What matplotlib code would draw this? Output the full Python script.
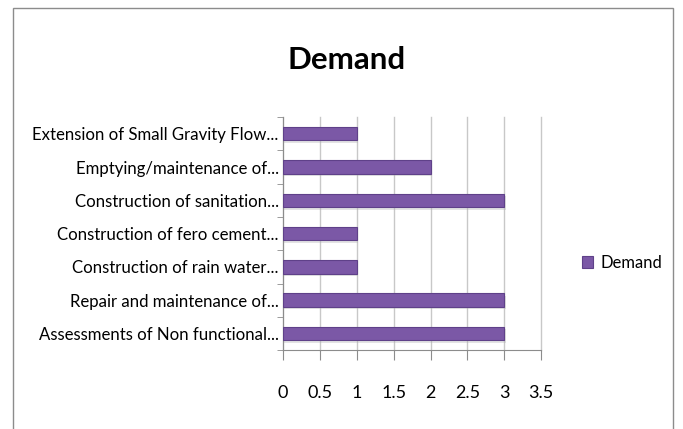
import matplotlib.pyplot as plt
from matplotlib.patches import Rectangle

categories = [
    "Assessments of Non functional...",
    "Repair and maintenance of...",
    "Construction of rain water...",
    "Construction of fero cement...",
    "Construction of sanitation...",
    "Emptying/maintenance of...",
    "Extension of Small Gravity Flow...",
]
demand = [3, 3, 1, 1, 3, 2, 1]
xticks = [0, 0.5, 1, 1.5, 2, 2.5, 3, 3.5]
xtick_labels = ["0", "0.5", "1", "1.5", "2", "2.5", "3", "3.5"]

plt.rcParams['font.family'] = ['Lato', 'DejaVu Sans']

fig = plt.figure(figsize=(6.83, 4.29), dpi=100)
fig.patches.append(Rectangle((0.019, -0.05), 0.966, 1.031, transform=fig.transFigure,
                             fill=False, edgecolor="#8c8c8c", linewidth=1.0))
ax = fig.add_axes([0.4144, 0.184, 0.378, 0.543])

pos = list(range(len(categories)))
# soft shadow under each bar
ax.barh([p - 0.08 for p in pos], [v + 0.02 for v in demand], height=0.4,
        color="#b0b0b0", alpha=0.35, linewidth=0, zorder=2)
ax.barh(pos, demand, height=0.4, color="#7b58a6", edgecolor="#5f4189",
        linewidth=0.8, zorder=3, label="Demand")

ax.set_xlim(0, 3.5)
ax.set_ylim(-0.5, len(categories) - 0.5)
ax.set_xticks(xticks)
ax.set_xticklabels(xtick_labels, fontsize=13)
ax.set_yticks(pos)
ax.set_yticklabels(categories, fontsize=12.1)
ax.set_yticks([p - 0.5 for p in pos] + [len(categories) - 0.5], minor=True)

ax.tick_params(axis="x", length=7, pad=18, color="#8c8c8c")
ax.tick_params(axis="y", which="major", length=0, pad=3)
ax.tick_params(axis="y", which="minor", length=4, color="#8c8c8c")

ax.grid(axis="x", color="#c8c8c8", linewidth=1.0, zorder=0, clip_on=False)
ax.set_axisbelow(True)
for side in ("top", "right"):
    ax.spines[side].set_visible(False)
for side in ("left", "bottom"):
    ax.spines[side].set_color("#8c8c8c")

fig.text(0.508, 0.86, "Demand", ha="center", va="center", fontsize=22.5, fontweight="bold")

fig.legend(loc="center left", bbox_to_anchor=(0.842, 0.388), frameon=False, fontsize=12,
           handlelength=0.7, handleheight=0.7, handletextpad=0.4, borderaxespad=0)

fig.savefig("out.png", dpi=100)
